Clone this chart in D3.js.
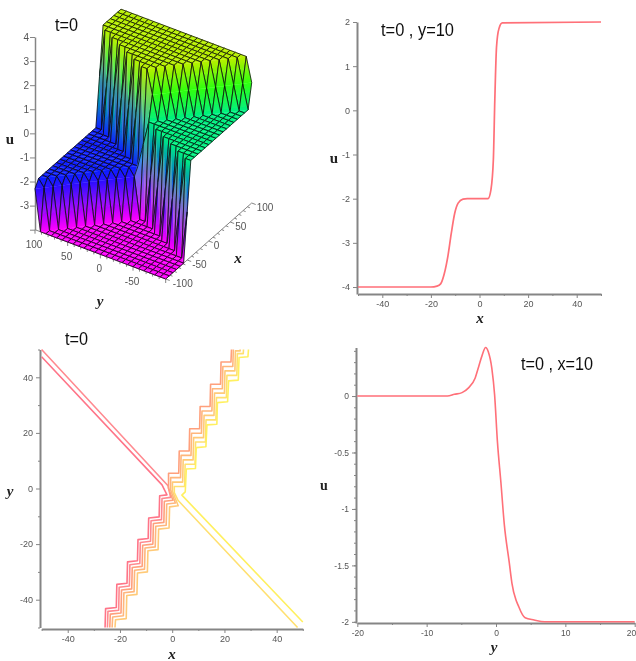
<!DOCTYPE html>
<html>
<head>
<meta charset="utf-8">
<script src="https://cdn.jsdelivr.net/npm/d3@7"></script>
<style>
  body { margin: 0; background: #fff; }
  .tick text { font-family: "Liberation Sans", sans-serif; fill: #555; }
  .tick line, .domain { stroke: #858585; }
</style>
</head>
<body>
<script>
// ---- data ----

// surface heights on the 25x25 plot grid, one row per y (-100 up to 100), run length coded
const surfaceRuns = [
  "a6 c e17 f", "a7 e16 f g", "a7 c e14 f g2", "a8 e13 f g3", "a8 c e11 f g4",
  "a9 e10 f g5", "a9 c e8 f g6", "a10 e7 f g7", "a10 c e5 f g8", "a11 e4 f g9",
  "a11 c e2 f g10", "a12 e f g11", "a12 d g12", "a11 b c g12", "a10 b c2 e g11",
  "a9 b c4 g11", "a8 b c5 e g10", "a7 b c7 g10", "a6 b c8 e g9", "a5 b c10 g9",
  "a4 b c11 e g8", "a3 b c13 g8", "a2 b c14 e g7", "a b c16 g7", "b c17 e g6"
]
const levelU = { a: -4, b: -2.3, c: -2, d: -1, e: 0, f: 1, g: 2 }
const levelColor = { a: "#ff00ff", b: "#2a10ff", c: "#0a20ff", d: "#00b0e0", e: "#00f080", f: "#30ff10", g: "#b8f000" }
// wall colours half way up the two tall steps
const wallMid = { "-4,0": "#7a70d0", "-2,2": "#3a98a8" }

const zTicks = [4, 3, 2, 1, 0, -1, -2, -3, -4]
const xTicks3d = [-100, -50, 0, 50, 100]
const yTicks3d = [100, 50, 0, -50]

// t=0, y=10 section
const sectionX = [-50, -20, -17.5, -16, -14.5, -13, -11.6, -10.2, -8.8, -6.8, -5, 3.5, 4.7, 5.7, 6.3, 7, 8, 9.4, 50]
const sectionXU = [-4, -4, -3.98, -3.93, -3.7, -3.3, -2.78, -2.33, -2.1, -2.01, -2, -2, -1.8, -1.12, 0.23, 1.43, 1.85, 1.98, 2]

// t=0, x=10 section
const sectionY = [-20, -7, -6, -4.9, -4, -3, -2.5, -2, -1.5, -1.1, -0.6, -0.2, 0.2, 0.7, 1.2, 1.9, 2.3, 3.3, 4.2, 5.5, 7, 20]
const sectionYU = [0, 0, 0.015, 0.03, 0.07, 0.16, 0.26, 0.36, 0.43, 0.39, 0.245, 0.01, -0.4, -0.76, -1.14, -1.47, -1.66, -1.87, -1.965, -1.985, -2, -2]

// contour lines, [x, y]
const contour1 = [[-50,47.4],[-3.9,1.3],[-2,-2.3],[-4.8,-2.6],[-5,-10.2],[-9,-10.6],[-9.2,-18],[-13.1,-18.4],[-13.3,-26],[-17.1,-26.4],[-17.3,-34.1],[-21.2,-34.5],[-21.4,-42.8],[-25.5,-43.2],[-25.7,-50]]
const contour2 = [[-50,50],[-1.6,1],[-0.6,-3.2],[-3.9,-3.6],[-4.1,-11.2],[-8.1,-11.6],[-8.3,-19],[-12.2,-19.4],[-12.4,-27],[-16.2,-27.4],[-16.4,-35.1],[-20.3,-35.5],[-20.5,-43.8],[-24.6,-44.2],[-24.8,-50]]
const contour3 = [[22.7,50],[22.5,45.5],[18.7,45.5],[18.5,37.5],[14.7,37.5],[14.5,29.5],[10.7,29.5],[10.5,21.5],[6.7,21.5],[6.5,13.5],[2.7,13.5],[2.5,5.5],[-1.4,5.5],[-1.4,0],[0.3,-4.2],[-3,-4.6],[-3.2,-12.2],[-7.2,-12.6],[-7.4,-20],[-11.3,-20.4],[-11.5,-28],[-15.3,-28.4],[-15.5,-36.1],[-19.4,-36.5],[-19.6,-44.8],[-23.7,-45.2],[-23.9,-50]]
const contour4 = [[23.4,50],[23.2,43.9],[19.4,43.9],[19.2,35.9],[15.4,35.9],[15.2,27.9],[11.4,27.9],[11.2,19.9],[7.4,19.9],[7.2,11.9],[3.4,11.9],[3.2,3.9],[-0.6,3.9],[-0.6,-0.5],[1.2,-5.2],[-2.1,-5.6],[-2.3,-13.2],[-6.3,-13.6],[-6.5,-21],[-10.4,-21.4],[-10.6,-29],[-14.4,-29.4],[-14.6,-37.1],[-18.5,-37.5],[-18.7,-45.8],[-22.8,-46.2],[-23,-50]]
const contour5 = [[26,50],[26,49.5],[24.2,49.5],[24,42.3],[20.2,42.3],[20,34.3],[16.2,34.3],[16,26.3],[12.2,26.3],[12,18.3],[8.2,18.3],[8,10.3],[4.2,10.3],[4,2.3],[0.1,2.3],[0.1,-1],[2.3,-6.2],[-1,-6.6],[-1.2,-14.2],[-5.2,-14.6],[-5.4,-22],[-9.3,-22.4],[-9.5,-30],[-13.3,-30.4],[-13.5,-38.1],[-17.4,-38.5],[-17.6,-46.8],[-21.7,-47.2],[-21.9,-50]]
const contour6 = [[27.3,50],[27.2,48.5],[24.95,48.5],[24.75,40.7],[20.95,40.7],[20.75,32.7],[16.95,32.7],[16.75,24.7],[12.95,24.7],[12.75,16.7],[8.95,16.7],[8.75,8.7],[4.95,8.7],[4.75,0.7],[0.8,0.7],[0.8,-1.5],[2.2,-4.2],[48,-50]]
const contour7 = [[29.2,50],[29,47.4],[25.6,47.1],[25.3,39],[21.6,38.7],[21.2,31.2],[17.3,30.9],[17.1,23.1],[13.3,22.9],[12.9,15],[9.2,14.7],[8.9,7.2],[5.4,7],[5,-1.2],[3.7,-2.4],[50,-48]]
const contours = [contour1, contour2, contour3, contour4, contour5, contour6, contour7]
const contourColors = ["#ff7488", "#ff8a90", "#ffa07c", "#ffb67c", "#ffca78", "#ffe070", "#fff060"]

// ---- page ----
const width = 636
const height = 661
const svg = d3.select("body").append("svg")
  .attr("width", width)
  .attr("height", height)
  .style("display", "block")

const defs = svg.append("defs")
defs.append("filter").attr("id", "soft")
  .attr("filterUnits", "userSpaceOnUse")
  .attr("x", 0).attr("y", 0).attr("width", width).attr("height", height)
  .append("feGaussianBlur").attr("stdDeviation", 0.65)

const root = svg.append("g").attr("filter", "url(#soft)")

function title(txt, x, y, w) {
  root.append("text").text(txt)
    .attr("x", x).attr("y", y)
    .attr("font-family", "Liberation Sans")
    .attr("font-size", 18)
    .attr("textLength", w)
    .attr("lengthAdjust", "spacingAndGlyphs")
    .attr("fill", "#111")
}

function axisLabel(txt, x, y, italic, size) {
  root.append("text").text(txt)
    .attr("x", x).attr("y", y)
    .attr("text-anchor", "middle")
    .attr("font-family", "Liberation Serif")
    .attr("font-weight", "bold")
    .attr("font-style", italic ? "italic" : "normal")
    .attr("font-size", size || 14)
    .attr("fill", "#222")
}

// major + minor ticks for the flat plots
function drawAxis(makeAxis, scale, pos, majors, minors, fontSize) {
  const minor = root.append("g").attr("transform", pos)
    .call(makeAxis(scale).tickValues(minors).tickFormat("").tickSize(2).tickSizeOuter(0))
  minor.select(".domain").remove()
  const g = root.append("g").attr("transform", pos)
    .call(makeAxis(scale).tickValues(majors).tickFormat(d => d).tickSize(4).tickSizeOuter(0))
  g.select(".domain").attr("stroke-width", 2)
  g.selectAll(".tick text").attr("font-size", fontSize || 9)
  return g
}

// ---- top left: the 3d surface ----
const xToX = d3.scaleLinear([-100, 100], [0, 86])
const xToY = d3.scaleLinear([-100, 100], [0, -76])
const yToX = d3.scaleLinear([100, -100], [0, 130.7])
const yToY = d3.scaleLinear([100, -100], [0, 49.3])
const zScale = d3.scaleLinear([-4, 4], [229.7, 37])
const originX = 35

function project(x, y, u) {
  return [originX + xToX(x) + yToX(y), xToY(x) + yToY(y) + zScale(u)]
}

const grid = surfaceRuns.map(r => r.split(" ").map(p => p[0].repeat(+p.slice(1) || 1)).join(""))
const gridStep = 200 / 24
const vertex = (i, j) => {
  const c = grid[j][i]
  const x = -100 + i * gridStep
  const y = -100 + j * gridStep
  return { p: project(x, y, levelU[c]), u: levelU[c], c: levelColor[c] }
}

// box axes
const zAxisG = root.append("g").attr("transform", `translate(${originX},0)`)
  .call(d3.axisLeft(zScale).tickValues(zTicks).tickFormat(d => d === -4 ? "" : d).tickSize(5).tickPadding(1).tickSizeOuter(0))
zAxisG.select(".domain").attr("stroke-width", 1.5)
zAxisG.selectAll(".tick text").attr("font-size", 10)

const xyAxis = root.append("g")
const axisLine = (a, b) => xyAxis.append("line")
  .attr("x1", a[0]).attr("y1", a[1]).attr("x2", b[0]).attr("y2", b[1])
  .attr("stroke", "#858585").attr("stroke-width", 1)
axisLine(project(-100, 100, -4), project(-100, -100, -4))
axisLine(project(-100, -100, -4), project(100, -100, -4))
d3.range(-100, 101, 10).forEach(v => {
  const big = v % 50 === 0
  const a = project(v, -100, -4)
  axisLine(a, [a[0] + (big ? 4 : 2.5), a[1] + (big ? 1.5 : 1)])
  const b = project(-100, v, -4)
  axisLine(b, [b[0], b[1] + (big ? 4 : 2.5)])
})
function tickText(txt, x, y, anchor) {
  xyAxis.append("text").text(txt)
    .attr("x", x).attr("y", y).attr("text-anchor", anchor)
    .attr("font-family", "Liberation Sans").attr("font-size", 10).attr("fill", "#555")
}
xTicks3d.forEach(v => {
  const a = project(v, -100, -4)
  tickText(v, a[0] + (v === -100 ? 7 : 5), a[1] + 8, "start")
})
yTicks3d.forEach(v => {
  const a = project(-100, v, -4)
  tickText(v, a[0] - 1, a[1] + 18, "middle")
})

// cells back to front
const surface = root.append("g")
let gradId = 0
function triFill(t) {
  const s = t.slice().sort((a, b) => a.u - b.u)
  if (s[0].u === s[2].u) return s[0].c
  const [A, B, C] = s
  const f = (B.u - A.u) / (C.u - A.u)
  const D = [A.p[0] + (C.p[0] - A.p[0]) * f, A.p[1] + (C.p[1] - A.p[1]) * f]
  let nx = -(B.p[1] - D[1])
  let ny = B.p[0] - D[0]
  const len = Math.hypot(nx, ny)
  let end = C.p
  if (len > 0.01) {
    nx /= len
    ny /= len
    const d = (C.p[0] - A.p[0]) * nx + (C.p[1] - A.p[1]) * ny
    end = [A.p[0] + nx * d, A.p[1] + ny * d]
  }
  const id = "g" + gradId++
  const lg = defs.append("linearGradient").attr("id", id)
    .attr("gradientUnits", "userSpaceOnUse")
    .attr("x1", A.p[0]).attr("y1", A.p[1]).attr("x2", end[0]).attr("y2", end[1])
  lg.append("stop").attr("offset", 0).attr("stop-color", A.c)
  const mid = wallMid[A.u + "," + C.u]
  if (mid) lg.append("stop").attr("offset", 0.5).attr("stop-color", mid)
  lg.append("stop").attr("offset", 1).attr("stop-color", C.c)
  return `url(#${id})`
}
const polyPath = pts => "M" + pts.map(v => v.p.join(",")).join("L") + "Z"
for (let i = 23; i >= 0; i--) {
  for (let j = 23; j >= 0; j--) {
    const a = vertex(i, j), b = vertex(i + 1, j), c = vertex(i + 1, j + 1), d = vertex(i, j + 1)
    // fold along the diagonal with the smaller height change
    const tris = Math.abs(b.u - d.u) <= Math.abs(a.u - c.u) ? [[b, c, d], [a, b, d]] : [[a, c, d], [a, b, c]]
    tris.forEach(t => {
      const fill = triFill(t)
      surface.append("path").attr("d", polyPath(t)).attr("fill", fill).attr("stroke", fill).attr("stroke-width", 0.3)
    })
    surface.append("path").attr("d", polyPath([a, b, c, d]))
      .attr("fill", "none").attr("stroke", "#0a0a0a").attr("stroke-width", 0.8).attr("stroke-linejoin", "round")
  }
}

title("t=0", 55, 31, 23)
axisLabel("u", 10, 144, false, 15)
axisLabel("x", 238, 263, true, 15)
axisLabel("y", 100, 306, true, 15)

// ---- top right: u against x ----
const xA = d3.scaleLinear([-50, 50], [358, 601])
const uA = d3.scaleLinear([-4, 2], [287, 22])
const lineA = d3.line().x((d, i) => xA(sectionX[i])).y(d => uA(d)).curve(d3.curveMonotoneX)
drawAxis(d3.axisBottom, xA, "translate(0,294)", [-40, -20, 0, 20, 40], [-50, -30, -10, 10, 30, 50])
root.append("g").attr("transform", "translate(357,0)")
  .call(d3.axisLeft(d3.scaleLinear([-4.158, 2], [294, 22])).tickValues([-4, -3, -2, -1, 0, 1, 2]).tickFormat(d => d).tickSize(4).tickSizeOuter(0))
  .call(g => g.select(".domain").attr("stroke-width", 2))
  .call(g => g.selectAll(".tick text").attr("font-size", 9))
root.append("path").attr("d", lineA(sectionXU))
  .attr("fill", "none").attr("stroke", "#ff6f78").attr("stroke-width", 1.7)
title("t=0 , y=10", 381, 36, 73)
axisLabel("u", 334, 163, false, 15)
axisLabel("x", 480, 323, true, 15)

// ---- bottom left: contours ----
const xC = d3.scaleLinear([-50, 50], [41.6, 302.8])
const yC = d3.scaleLinear([-50, 50], [627.5, 349.5])
drawAxis(d3.axisBottom, xC, "translate(0,629)", [-40, -20, 0, 20, 40], [-50, -30, -10, 10, 30, 50])
drawAxis(d3.axisLeft, yC, "translate(40,0)", [-40, -20, 0, 20, 40], [-50, -30, -10, 10, 30, 50])
const lineC = d3.line().x(d => xC(d[0])).y(d => yC(d[1]))
contours.forEach((c, i) => {
  root.append("path").attr("d", lineC(c))
    .attr("fill", "none").attr("stroke", contourColors[i]).attr("stroke-width", 1.6)
    .attr("stroke-linejoin", "round")
})
title("t=0", 65, 345, 23)
axisLabel("y", 10, 496, true, 15)
axisLabel("x", 172, 659, true, 15)

// ---- bottom right: u against y ----
const xD = d3.scaleLinear([-20, 20], [357.3, 634.7])
const uD = d3.scaleLinear([-2, 0], [621.7, 396])
const lineD = d3.line().x((d, i) => xD(sectionY[i])).y(d => uD(d)).curve(d3.curveMonotoneX)
const bottomD = drawAxis(d3.axisBottom, xD, "translate(0,623)", [-20, -10, 0, 10, 20], [-15, -5, 5, 15], 8.5)
// last label sits right at the window edge
bottomD.selectAll(".tick text").filter(d => d === 20).attr("text-anchor", "end").attr("dx", 1)
root.append("g").attr("transform", "translate(356,0)")
  .call(d3.axisLeft(uD).tickValues(d3.range(-2, 0.41, 0.1)).tickFormat("").tickSize(2).tickSizeOuter(0))
  .call(g => g.select(".domain").remove())
root.append("g").attr("transform", "translate(356,0)")
  .call(d3.axisLeft(d3.scaleLinear([-2.01, 0.43], [623, 347.5])).tickValues([-2, -1.5, -1, -0.5, 0]).tickFormat(d => d).tickSize(4).tickSizeOuter(0))
  .call(g => g.select(".domain").attr("stroke-width", 2))
  .call(g => g.selectAll(".tick text").attr("font-size", 8.5))
root.append("path").attr("d", lineD(sectionYU))
  .attr("fill", "none").attr("stroke", "#ff6f78").attr("stroke-width", 1.6)
title("t=0 , x=10", 521, 370, 72)
axisLabel("u", 324, 490, false, 14)
axisLabel("y", 494, 652, true, 15)
</script>
</body>
</html>
